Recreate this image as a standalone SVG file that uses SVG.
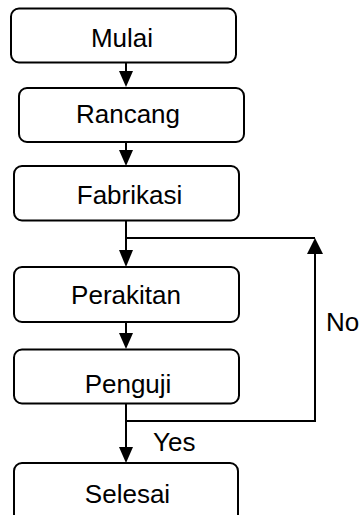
<svg xmlns="http://www.w3.org/2000/svg" width="361" height="515" viewBox="0 0 361 515">
<style>
.box{fill:#fff;stroke:#000;stroke-width:2}
.t{font-family:"Liberation Sans",Arial,sans-serif;font-size:26px;fill:#000;text-anchor:middle}
.l{font-family:"Liberation Sans",Arial,sans-serif;font-size:26px;fill:#000}
.ln{fill:none;stroke:#000;stroke-width:2}
.hd{fill:#000}
</style>
<rect width="361" height="515" fill="#fff"/>
<g id="mulai"><rect class="box" x="11" y="8.5" width="225" height="54" rx="8"/><text class="t" x="122" y="46.5">Mulai</text></g>
<g id="rancang"><rect class="box" x="19" y="88" width="225" height="54" rx="8"/><text class="t" x="128" y="123">Rancang</text></g>
<g id="fabrikasi"><rect class="box" x="14" y="166" width="225" height="54.5" rx="8"/><text class="t" x="129.5" y="204">Fabrikasi</text></g>
<g id="perakitan"><rect class="box" x="14" y="267" width="225" height="55" rx="8"/><text class="t" x="126" y="304">Perakitan</text></g>
<g id="penguji"><rect class="box" x="14" y="349.5" width="225" height="54" rx="8"/><text class="t" x="128" y="392.5">Penguji</text></g>
<g id="selesai"><rect class="box" x="14" y="463" width="224" height="62" rx="8"/><text class="t" x="127.5" y="503">Selesai</text></g>
<g id="connectors">
<line class="ln" x1="126" y1="63" x2="126" y2="72"/><polygon class="hd" points="119,71 133,71 126,87"/>
<line class="ln" x1="126" y1="142" x2="126" y2="151"/><polygon class="hd" points="119,150 133,150 126,166"/>
<line class="ln" x1="126" y1="220.5" x2="126" y2="251"/><polygon class="hd" points="119,250 133,250 126,267"/>
<line class="ln" x1="126" y1="322" x2="126" y2="334"/><polygon class="hd" points="119,333 133,333 126,349"/>
<line class="ln" x1="126" y1="404" x2="126" y2="448"/><polygon class="hd" points="119,447 133,447 126,463"/>
<path class="ln" d="M126 421H315V253"/><polygon class="hd" points="307,254 323,254 315,238"/>
<line class="ln" x1="126" y1="238" x2="315" y2="238"/>
<text class="l" x="326" y="331">No</text>
<text class="l" x="153" y="451">Yes</text>
</g>
</svg>
